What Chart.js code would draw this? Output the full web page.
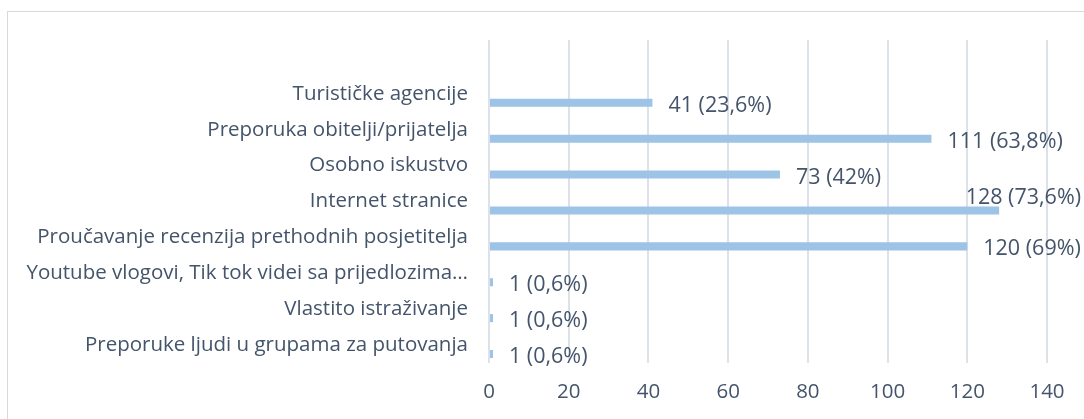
<!DOCTYPE html>
<html>
<head>
<meta charset="utf-8">
<script src="https://cdn.jsdelivr.net/npm/chart.js@4/dist/chart.umd.min.js"></script>
<style>
  html, body { margin: 0; padding: 0; background: #fff; }
  #wrap { width: 1084px; height: 419px; position: relative; }
</style>
</head>
<body>
<div id="wrap"><canvas id="chart"></canvas></div>
<script>
// Categories, top to bottom (first one is the empty slot above the bars)
const categories = [
    '',
    'Turističke agencije',
    'Preporuka obitelji/prijatelja',
    'Osobno iskustvo',
    'Internet stranice',
    'Proučavanje recenzija prethodnih posjetitelja',
    'Youtube vlogovi, Tik tok videi sa prijedlozima…',
    'Vlastito istraživanje',
    'Preporuke ljudi u grupama za putovanja'
];
const counts = [null, 41, 111, 73, 128, 120, 1, 1, 1];
const percents = ['', '23,6', '63,8', '42', '73,6', '69', '0,6', '0,6', '0,6'];
const xTicks = [0, 20, 40, 60, 80, 100, 120, 140];

const textColor = '#44546A';
const gridColor = '#DDE2E9';
const barColor = '#9DC3E6';
const fontFamily = "'Open Sans', 'Liberation Sans', sans-serif";
const fontSize = 20.5;

// Frame round the chart
const framePlugin = {
    id: 'frame',
    beforeDraw(chart) {
        const ctx = chart.ctx;
        ctx.save();
        ctx.strokeStyle = '#D9D9D9';
        ctx.lineWidth = 1;
        ctx.strokeRect(7.5, 11.5, 1200, 500);
        ctx.restore();
    }
};

// Value labels next to the bars
const valueLabels = {
    id: 'valueLabels',
    afterDatasetsDraw(chart) {
        const ctx = chart.ctx;
        const meta = chart.getDatasetMeta(1);
        ctx.save();
        ctx.font = '21.5px ' + fontFamily;
        ctx.fillStyle = textColor;
        ctx.textBaseline = 'middle';
        meta.data.forEach((bar, i) => {
            if (counts[i] === null) return;
            const txt = counts[i] + ' (' + percents[i] + '%)';
            const w = ctx.measureText(txt).width;
            let x = bar.x + 16;
            let y = bar.y + 3;
            // keep inside the picture: slide left and lift above the bar
            if (x + w > chart.width - 3) {
                x = chart.width - 3 - w;
                y = bar.y - 13;
            }
            ctx.fillText(txt, x, y);
        });
        ctx.restore();
    }
};

new Chart(document.getElementById('chart'), {
    type: 'bar',
    data: {
        labels: categories,
        datasets: [
            { label: 'prazno', data: categories.map(() => null), backgroundColor: barColor },
            { label: 'Broj odgovora', data: counts, backgroundColor: barColor }
        ]
    },
    options: {
        indexAxis: 'y',
        responsive: true,
        maintainAspectRatio: false,
        animation: false,
        categoryPercentage: 1.0,
        barPercentage: 0.45,
        layout: { padding: { top: 40, right: 37, left: 0, bottom: 0 } },
        plugins: {
            legend: { display: false },
            tooltip: { enabled: false }
        },
        scales: {
            x: {
                min: 0,
                max: 140,
                afterBuildTicks(axis) {
                    axis.ticks = xTicks.map(v => ({ value: v }));
                },
                afterFit(axis) { axis.height = 56; },
                grid: { color: gridColor, lineWidth: 2, drawTicks: false },
                border: { display: false },
                ticks: {
                    padding: 17,
                    color: textColor,
                    font: { family: fontFamily, size: fontSize }
                }
            },
            y: {
                afterFit(axis) { axis.width = 489; },
                grid: { display: false, drawTicks: false },
                border: { display: false },
                ticks: {
                    padding: 21,
                    color: textColor,
                    autoSkip: false,
                    font: { family: fontFamily, size: fontSize }
                }
            }
        }
    },
    plugins: [framePlugin, valueLabels]
});
</script>
</body>
</html>
